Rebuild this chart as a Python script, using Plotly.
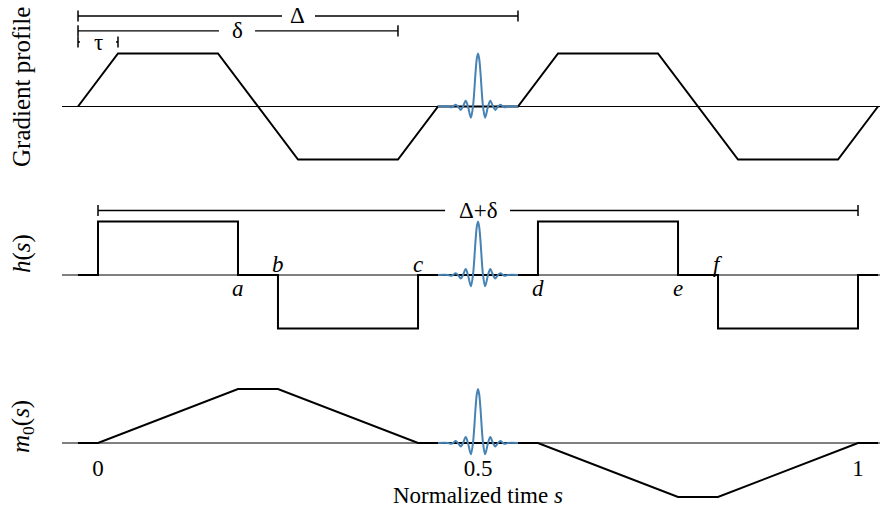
import plotly.graph_objects as go

# ---------------- data (normalized time s) ----------------
grad_s = [-0.0263, 0.0263, 0.1579, 0.2632, 0.3947, 0.4474,
          0.5526, 0.6053, 0.7368, 0.8421, 0.9737, 1.0263]
grad_v = [0, 1, 1, -1, -1, 0, 0, 1, 1, -1, -1, 0]

h_s = [-0.0263, 0, 0, 0.1842, 0.1842, 0.2368, 0.2368, 0.4211, 0.4211,
       0.5789, 0.5789, 0.7632, 0.7632, 0.8158, 0.8158, 1.0, 1.0, 1.0263]
h_v = [0, 0, 1, 1, 0, 0, -1, -1, 0, 0, 1, 1, 0, 0, -1, -1, 0, 0]

m0_s = [-0.0263, 0, 0.1842, 0.2368, 0.4211, 0.5789, 0.7632, 0.8158, 1.0, 1.0263]
m0_v = [0, 0, 1, 1, 0, 0, -1, -1, 0, 0]

sinc_center = 0.5
sinc_ds = [-0.0526, -0.0395, -0.0361, -0.0329, -0.0295, -0.0263, -0.0228,
           -0.0197, -0.0162, -0.0132, -0.0094, -0.0066, -0.0033, -0.0016, 0,
           0.0016, 0.0033, 0.0066, 0.0094, 0.0132, 0.0162, 0.0197, 0.0228,
           0.0263, 0.0295, 0.0329, 0.0361, 0.0395, 0.0526]
sinc_v = [0, 0, -0.015, 0, 0.035, 0, -0.065, 0, 0.11, 0, -0.21, 0, 0.63, 0.9, 1,
          0.9, 0.63, 0, -0.21, 0, 0.11, 0, -0.065, 0, 0.035, 0, -0.015, 0, 0]

baseline_s = [-0.0474, 1.029]

point_labels = ["a", "b", "c", "d", "e", "f"]
point_s = [0.1842, 0.2368, 0.4211, 0.5789, 0.7632, 0.8158]
point_above = [False, True, True, False, False, True]

# brackets
bracket_labels = ["Δ", "δ", "τ", "Δ+δ"]
bracket_start = [-0.0263, -0.0263, -0.0263, 0.0]
bracket_end = [0.5526, 0.3947, 0.0263, 1.0]
bracket_level = [1.708, 1.425, 1.217, 1.206]
bracket_gap = [(0.2421, 0.2855), (0.1592, 0.2066), (-0.0237, 0.0237), (0.4566, 0.5421)]
bracket_axis = ["y", "y", "y", "y2"]

tick_vals = [0, 0.5, 1]
tick_text = ["0", "0.5", "1"]

# ---------------- figure ----------------
W, H = 886, 510
FONT = "Liberation Serif"
FS = 23
FS_Y = 25
BLACK = "#000000"
BLUE = "#4682b4"

fig = go.Figure()
axes = ["y", "y2", "y3"]
curves = [(grad_s, grad_v), (h_s, h_v), (m0_s, m0_v)]
sinc_x = [sinc_center + d for d in sinc_ds]

for ax, (xs, vs) in zip(axes, curves):
    fig.add_trace(go.Scatter(x=baseline_s, y=[0, 0], yaxis=ax, mode="lines",
                             line=dict(color=BLACK, width=1), hoverinfo="skip"))
    fig.add_trace(go.Scatter(x=xs, y=vs, yaxis=ax, mode="lines",
                             line=dict(color=BLACK, width=2), hoverinfo="skip"))
    fig.add_trace(go.Scatter(x=sinc_x, y=sinc_v, yaxis=ax, mode="lines",
                             line=dict(color=BLUE, width=2, shape="spline", smoothing=0.9),
                             hoverinfo="skip"))

for lab, a, b, lev, gap, ax in zip(bracket_labels, bracket_start, bracket_end,
                                   bracket_level, bracket_gap, bracket_axis):
    fig.add_trace(go.Scatter(x=[a, gap[0], None, gap[1], b], y=[lev, lev, None, lev, lev],
                             yaxis=ax, mode="lines", line=dict(color=BLACK, width=1.3),
                             hoverinfo="skip"))
    fig.add_trace(go.Scatter(x=[a, b], y=[lev, lev], yaxis=ax, mode="markers",
                             marker=dict(symbol="line-ns", size=8,
                                         line=dict(color=BLACK, width=1.5)),
                             hoverinfo="skip"))
    fig.add_annotation(x=(a + b) / 2, y=lev, xref="x", yref=ax, text=lab,
                       showarrow=False, font=dict(family=FONT, size=FS, color=BLACK),
                       xanchor="center", yanchor="middle")

for lab, s, above in zip(point_labels, point_s, point_above):
    fig.add_annotation(x=s, y=0, xref="x", yref="y2", text="<i>%s</i>" % lab,
                       showarrow=False, font=dict(family=FONT, size=FS, color=BLACK),
                       xanchor="center", yanchor="middle",
                       yshift=11 if above else -13)

ylabels = ["Gradient profile", "<i>h</i>(<i>s</i>)", "<i>m</i><sub>0</sub>(<i>s</i>)"]
ylabel_pos = [(H - 87) / H, (H - 254) / H, (H - 427) / H]
for t, p in zip(ylabels, ylabel_pos):
    fig.add_annotation(x=22 / W, y=p, xref="paper", yref="paper", text=t,
                       textangle=-90, showarrow=False,
                       font=dict(family=FONT, size=FS_Y, color=BLACK),
                       xanchor="center", yanchor="middle")

fig.add_annotation(x=0.5, y=(H - 495) / H, xref="x", yref="paper",
                   text="Normalized time <i>s</i>", showarrow=False,
                   font=dict(family=FONT, size=FS, color=BLACK),
                   xanchor="center", yanchor="middle")

x0_px, unit_px = 98.0, 760.0
def yrange(base_px, u):
    return [-(H - base_px) / u, base_px / u]

hide = dict(visible=False, showgrid=False, zeroline=False, fixedrange=True)
fig.update_layout(
    width=W, height=H,
    margin=dict(l=0, r=0, t=0, b=0),
    paper_bgcolor="white", plot_bgcolor="white",
    showlegend=False,
    font=dict(family=FONT, color=BLACK),
    xaxis=dict(range=[-x0_px / unit_px, (W - x0_px) / unit_px],
               tickvals=tick_vals, ticktext=tick_text, ticks="",
               showgrid=False, zeroline=False, showline=False,
               anchor="free", position=(H - 452) / H,
               tickfont=dict(family=FONT, size=FS, color=BLACK)),
    yaxis=dict(range=yrange(106.5, 53.0), **hide),
    yaxis2=dict(range=yrange(275.0, 53.5), overlaying="y", **hide),
    yaxis3=dict(range=yrange(443.0, 54.0), overlaying="y", **hide),
)

fig.write_html("out.html")
